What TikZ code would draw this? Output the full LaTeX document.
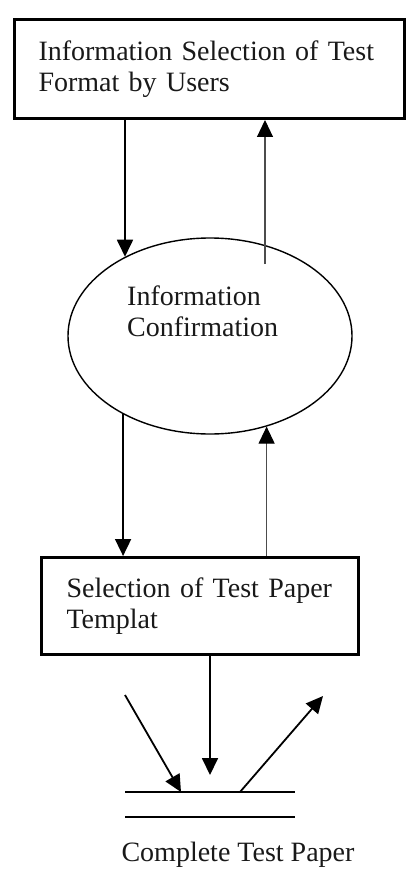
\documentclass[tikz,border=0pt]{standalone}
\usepackage{fontspec}
\setmainfont{Liberation Serif}
\usetikzlibrary{arrows.meta,shapes.geometric,calc}
\tikzset{
  txt/.style={font=\fontsize{28}{31}\selectfont, text=black!90},
  procbox/.style={draw, line width=3pt, rectangle, txt, align=left, anchor=north west, inner ysep=0pt},
  procell/.style={draw, line width=1.4pt, ellipse, inner sep=0pt},
  flowdown/.style={line width=1.8pt, -{Triangle[length=17pt,width=16pt]}},
  flowup/.style={line width=1.1pt, draw=black!70, -{Triangle[length=17pt,width=16pt,black]}},
  storeline/.style={line width=2.4pt}
}
\begin{document}
\begin{tikzpicture}[x=1pt,y=-1pt]
\useasboundingbox (0,0) rectangle (406,869);
% top box
\node[procbox, minimum width=390pt, minimum height=99pt, text width=342pt, inner xsep=24pt] (top) at (13,18)
  {Information Selection of Test\\Format by Users};
% ellipse
\node[procell, minimum width=284pt, minimum height=196pt] (ell) at (210,336) {};
\node[txt, align=left, anchor=north west, inner sep=0pt] (ellt) at (127,286) {Information\\Confirmation};
% second box
\node[procbox, minimum width=317pt, minimum height=97pt, text width=267pt, inner xsep=25pt] (mid) at (40,556)
  {Selection of Test Paper\\Templat};
% connectors
\draw[flowdown] (top.south -| ell.137.3) -- (ell.137.3);
\coordinate (u1) at (265,264);
\draw[flowup] (u1) -- (u1 |- top.south);
\draw[flowdown] (ell.222.7) -- (ell.222.7 |- mid.north);
\draw[flowup] (mid.north -| ell.-58.7) -- (ell.-58.7);
% data store
\coordinate (s1a) at (125,792);
\coordinate (s1b) at (295,792);
\coordinate (s2a) at (125,817);
\coordinate (s2b) at (295,817);
\draw[storeline] (s1a) -- (s1b);
\draw[storeline] (s2a) -- (s2b);
\coordinate (d5) at (210,775);
\draw[flowdown] (mid.south -| d5) -- (d5);
\coordinate (in1) at (125,695);
\coordinate (in2) at (181,792);
\draw[flowdown] (in1) -- (in2);
\coordinate (out1) at (240,792);
\coordinate (out2) at (323,696);
\draw[flowdown] (out1) -- (out2);
\node[txt, anchor=base] (lbl) at (238,861) {Complete Test Paper};
\end{tikzpicture}
\end{document}
